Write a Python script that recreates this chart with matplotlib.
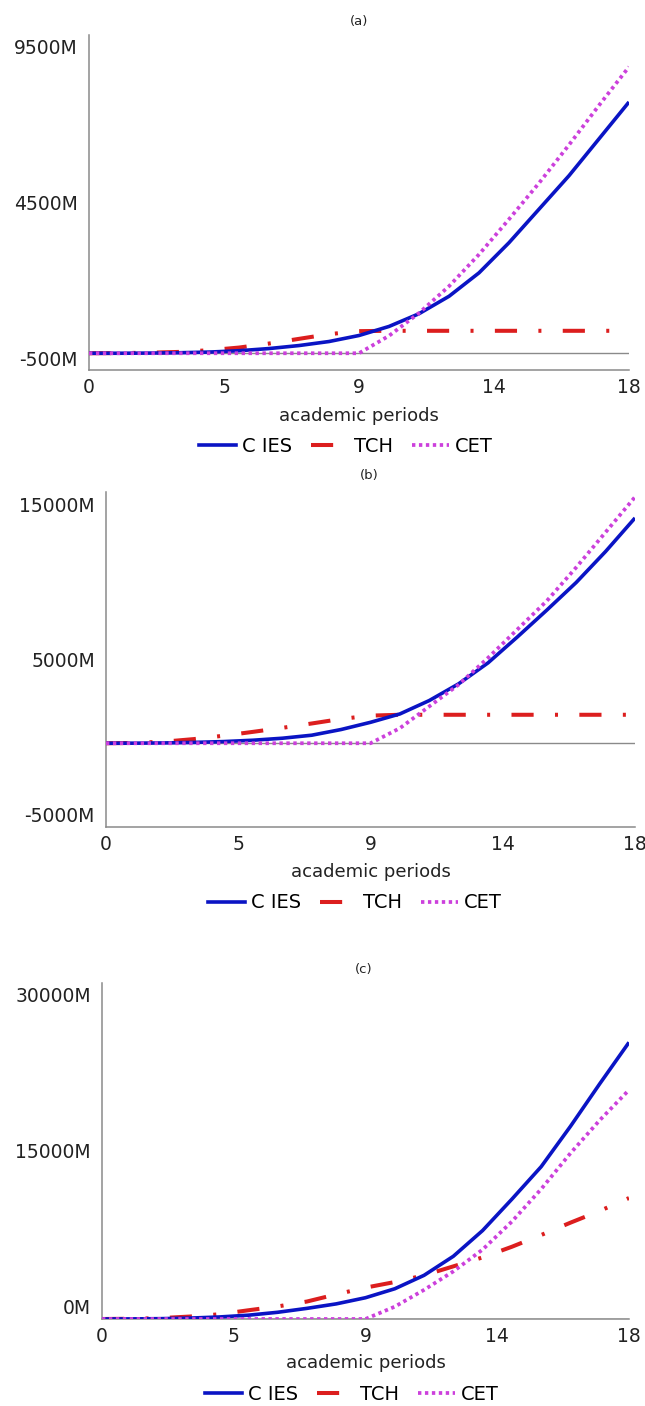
import matplotlib.pyplot as plt
from matplotlib.lines import Line2D
from matplotlib.transforms import ScaledTranslation

# Data ---------------------------------------------------------------

periods = list(range(19))
xtick_pos = [0, 4.5, 9, 13.5, 18]
xtick_labels = ["0", "5", "9", "14", "18"]
series_names = ["C IES", "TCH", "CET"]

# panel (a), values in millions
a_cies = [0, 0, 5, 15, 35, 75, 140, 230, 350, 530, 800, 1180, 1700, 2400, 3300, 4300, 5300, 6400, 7500]
a_tch = [0, 5, 15, 40, 90, 170, 290, 430, 570, 660, 670, 670, 670, 670, 670, 670, 670, 670, 670]
a_cet = [0, 0, 0, 0, 0, 0, 0, 0, 0, 0, 520, 1200, 2000, 2950, 4000, 5080, 6220, 7400, 8550]
a_yticks = [-500, 4500, 9500]

# panel (b)
b_cies = [0, 5, 20, 50, 100, 180, 300, 480, 820, 1250, 1750, 2550, 3550, 4800, 6350, 7950, 9600, 11450, 13450]
b_tch = [0, 20, 100, 250, 450, 680, 920, 1180, 1450, 1650, 1700, 1700, 1700, 1700, 1700, 1700, 1700, 1700, 1700]
b_cet = [0, 0, 0, 0, 0, 0, 0, 0, 0, 0, 900, 2200, 3500, 5100, 6800, 8500, 10500, 12600, 14700]
b_yticks = [-5000, 5000, 15000]

# panel (c)
c_cies = [0, 10, 30, 80, 180, 340, 600, 950, 1350, 1900, 2700, 3900, 5600, 7900, 10700, 13600, 17200, 21000, 24700]
c_tch = [0, 20, 80, 220, 420, 780, 1120, 1560, 2200, 2800, 3300, 3900, 4700, 5500, 6450, 7500, 8600, 9650, 10800]
c_cet = [0, 0, 0, 0, 0, 0, 0, 0, 0, 0, 1100, 2600, 4250, 6200, 8700, 11600, 14800, 17750, 20450]
c_yticks = [0, 15000, 30000]

# Layout (pixels on a 645 x 1406 canvas) ------------------------------

W, H = 645, 1406
panels = [
    # title, series, yticks, axes box (l, t, r, b), title pos, xlabel y, legend centre
    ("(a)", (a_cies, a_tch, a_cet), a_yticks, (89, 35, 629, 370), (359, 21), 416, (346, 446)),
    ("(b)", (b_cies, b_tch, b_cet), b_yticks, (106, 492, 635, 827), (369, 475), 872, (355, 903)),
    ("(c)", (c_cies, c_tch, c_cet), c_yticks, (102, 983, 629, 1319), (364, 969), 1363, (352, 1394)),
]

BLUE = "#0a14c4"
RED = "#dc1e1e"
MAGENTA = "#cc40dc"
GREY = "#8a8a8a"
styles = [
    dict(color=BLUE, lw=2.6, ls="-", zorder=3),
    dict(color=RED, lw=2.9, ls=(0, (5.5, 5.3, 0.75, 5.3)), zorder=2),
    dict(color=MAGENTA, lw=2.7, ls=(0, (0.9, 0.95)), zorder=4),
]

plt.rcParams["font.family"] = ["DejaVu Sans"]

fig = plt.figure(figsize=(W / 100, H / 100), dpi=100)

for title, series, yticks, box, tpos, xlab_y, leg_c in panels:
    l, t, r, b = box
    ax = fig.add_axes([l / W, 1 - b / H, (r - l) / W, (b - t) / H])

    ax.axhline(0, color=GREY, lw=1.0, zorder=1)
    for values, st in zip(series, styles):
        ax.plot(periods, values, solid_capstyle="butt", dash_capstyle="butt",
                color=st["color"], lw=st["lw"], ls=st["ls"], zorder=st["zorder"])

    ax.set_xlim(0, 18)
    ax.set_ylim(yticks[0], yticks[-1])
    ax.set_xticks(xtick_pos)
    ax.set_xticklabels(xtick_labels)
    ax.set_yticks(yticks)
    ax.set_yticklabels([f"{v}M" for v in yticks])
    ax.tick_params(axis="x", length=0, pad=6, labelsize=13.5, colors="#222222")
    ax.tick_params(axis="y", length=0, pad=8, labelsize=13.5, colors="#222222")

    # Vensim style: end labels sit a bit inside the axis range
    labels = ax.get_yticklabels()
    labels[0].set_transform(labels[0].get_transform()
                            + ScaledTranslation(0, 12 / 100, fig.dpi_scale_trans))
    labels[-1].set_transform(labels[-1].get_transform()
                             + ScaledTranslation(0, -12 / 100, fig.dpi_scale_trans))

    for side in ["top", "right"]:
        ax.spines[side].set_visible(False)
    for side in ["left", "bottom"]:
        ax.spines[side].set_color(GREY)
        ax.spines[side].set_linewidth(1.1)

    ax.set_xlabel("academic periods", fontsize=13, color="#222222", va="center")
    ax.xaxis.set_label_coords(0.5, -(xlab_y - b) / (b - t))

    fig.text(tpos[0] / W, 1 - tpos[1] / H, title, ha="center", va="center",
             fontsize=9.5, color="#222222")

    handles = [Line2D([], [], color=st["color"], lw=st["lw"], ls=st["ls"],
                      dash_capstyle="butt") for st in styles]
    fig.legend(handles, series_names, loc="center", ncol=3,
               bbox_to_anchor=(leg_c[0] / W, 1 - leg_c[1] / H),
               bbox_transform=fig.transFigure, frameon=False, fontsize=14,
               handlelength=1.9, handletextpad=0.3, columnspacing=1.0,
               borderpad=0, borderaxespad=0)

fig.savefig("out.png", dpi=100)
